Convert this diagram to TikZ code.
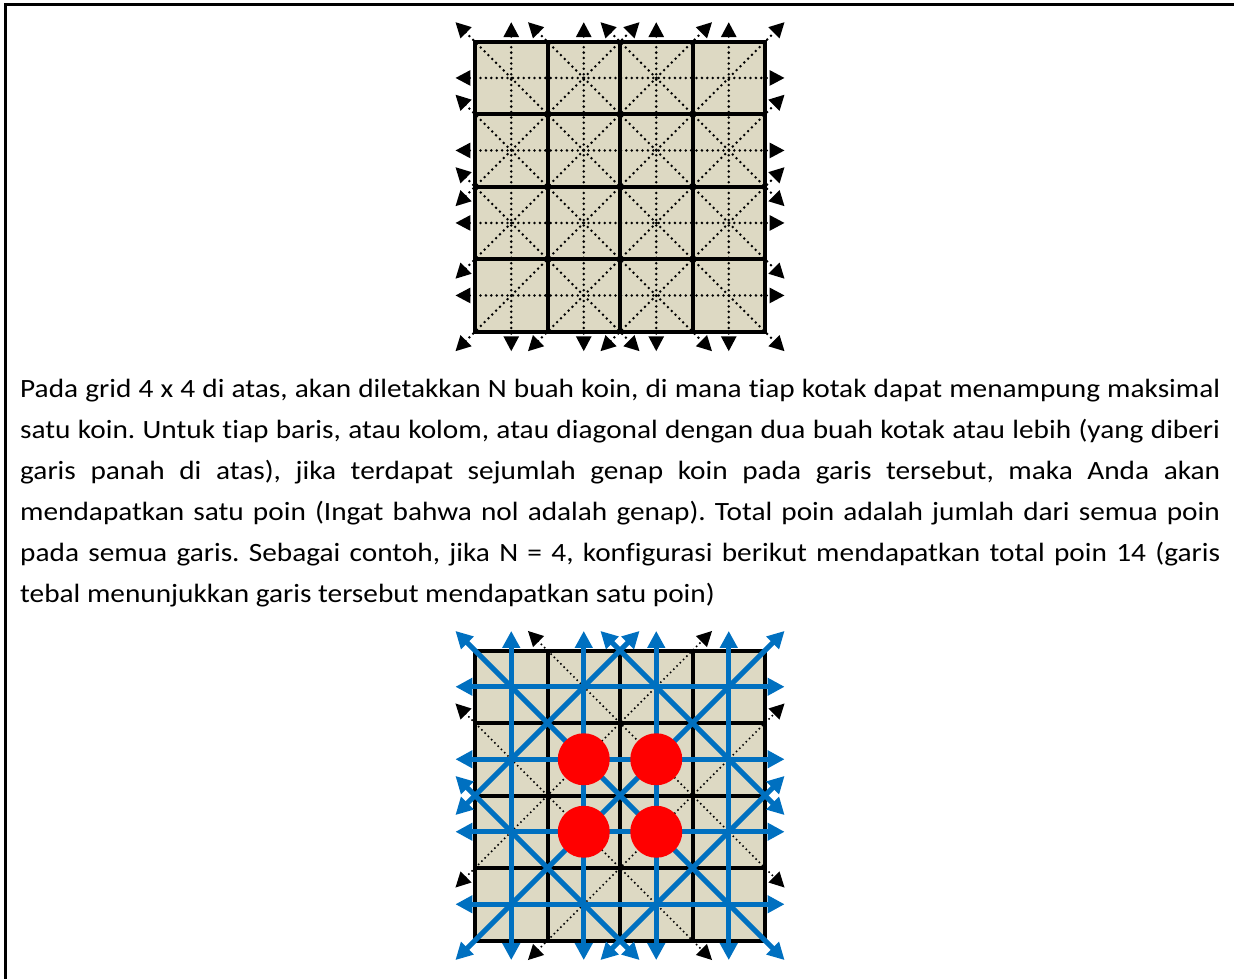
\documentclass[tikz,border=0pt]{standalone}
\usepackage{fontspec}
\setmainfont{Carlito}[FakeStretch=1.11, Ligatures=NoCommon]
\usetikzlibrary{arrows.meta}
\definecolor{colCell}{RGB}{221,217,195}
\definecolor{colPoint}{RGB}{0,112,192}
\definecolor{colCoin}{RGB}{255,0,0}

\begin{document}
\begin{tikzpicture}[
    x=1pt, y=-1pt,
    cell/.style={fill=colCell, rounded corners=2pt},
    gridline/.style={line width=4pt},
    dotline/.style={line width=2.8pt, line cap=round, dash pattern=on 0pt off 5.4pt,
        {Triangle[length=15pt,width=15pt]}-{Triangle[length=15pt,width=15pt]}},
    thindot/.style={dotline, line width=2.2pt, dash pattern=on 0pt off 4.6pt},
    pointline/.style={colPoint, line width=5pt,
        {Triangle[length=17pt,width=17pt]}-{Triangle[length=17pt,width=17pt]}},
    coin/.style={circle, fill=colCoin, minimum size=52pt, inner sep=0pt},
    board/.style={x=72.5pt, y=-72.5pt}
]
    \useasboundingbox (0,0) rectangle (1234,979);
    \draw[line width=3pt] (5,979) -- (5,5) -- (1234,5);

    % grid atas: semua garis
    \begin{scope}[shift={(475,41.7)}, board]
        \foreach \r in {0,...,3}
            \foreach \c in {0,...,3}
                \fill[cell] (\c,\r) rectangle ++(1,1);
        \draw[gridline] (0,0) rectangle (4,4);
        \foreach \i in {1,2,3} {
            \draw[gridline] (\i,0) -- (\i,4);
            \draw[gridline] (0,\i) -- (4,\i);
        }
        \foreach \i in {0.5,1.5,2.5,3.5} {
            \draw[dotline] (-0.27,\i) -- (4.27,\i);
            \draw[dotline] (\i,-0.27) -- (\i,4.27);
        }
        \foreach \ax/\ay/\bx/\by in {0/0/4/4, 1/0/4/3, 2/0/4/2, 0/1/3/4, 0/2/2/4}
            \draw[dotline] (\ax-0.27,\ay-0.27) -- (\bx+0.27,\by+0.27);
        \foreach \ax/\ay/\bx/\by in {0/4/4/0, 0/3/3/0, 0/2/2/0, 1/4/4/1, 2/4/4/2}
            \draw[dotline] (\ax-0.27,\ay+0.27) -- (\bx+0.27,\by-0.27);
    \end{scope}

    \node[anchor=base west, text width=1200pt, align=justify, inner sep=0pt,
          font=\fontsize{26.4pt}{41pt}\selectfont\frenchspacing] (desc) at (20,397)
        {Pada grid 4 x 4 di atas, akan diletakkan N buah koin, di mana tiap kotak dapat menampung maksimal\linebreak
         satu koin. Untuk tiap baris, atau kolom, atau diagonal dengan dua buah kotak atau lebih (yang diberi\linebreak
         garis panah di atas), jika terdapat sejumlah genap koin pada garis tersebut, maka Anda akan\linebreak
         mendapatkan satu poin (Ingat bahwa nol adalah genap). Total poin adalah jumlah dari semua poin\linebreak
         pada semua garis. Sebagai contoh, jika N = 4, konfigurasi berikut mendapatkan total poin 14 (garis\linebreak
         tebal menunjukkan garis tersebut mendapatkan satu poin)};

    % grid bawah: contoh N = 4
    \begin{scope}[shift={(475,650.5)}, board]
        \foreach \r in {0,...,3}
            \foreach \c in {0,...,3}
                \fill[cell] (\c,\r) rectangle ++(1,1);
        \draw[gridline] (0,0) rectangle (4,4);
        \foreach \i in {1,2,3} {
            \draw[gridline] (\i,0) -- (\i,4);
            \draw[gridline] (0,\i) -- (4,\i);
        }
        \foreach \ax/\ay/\bx/\by in {1/0/4/3, 0/1/3/4}
            \draw[thindot] (\ax-0.27,\ay-0.27) -- (\bx+0.27,\by+0.27);
        \foreach \ax/\ay/\bx/\by in {0/3/3/0, 1/4/4/1}
            \draw[thindot] (\ax-0.27,\ay+0.27) -- (\bx+0.27,\by-0.27);
        \foreach \i in {0.5,1.5,2.5,3.5} {
            \draw[pointline] (-0.27,\i) -- (4.27,\i);
            \draw[pointline] (\i,-0.27) -- (\i,4.27);
        }
        \foreach \ax/\ay/\bx/\by in {0/0/4/4, 2/0/4/2, 0/2/2/4}
            \draw[pointline] (\ax-0.27,\ay-0.27) -- (\bx+0.27,\by+0.27);
        \foreach \ax/\ay/\bx/\by in {0/4/4/0, 0/2/2/0, 2/4/4/2}
            \draw[pointline] (\ax-0.27,\ay+0.27) -- (\bx+0.27,\by-0.27);
        \node[coin] (coinA) at (1.5,1.5) {};
        \node[coin] (coinB) at (2.5,1.5) {};
        \node[coin] (coinC) at (1.5,2.5) {};
        \node[coin] (coinD) at (2.5,2.5) {};
    \end{scope}
\end{tikzpicture}
\end{document}
